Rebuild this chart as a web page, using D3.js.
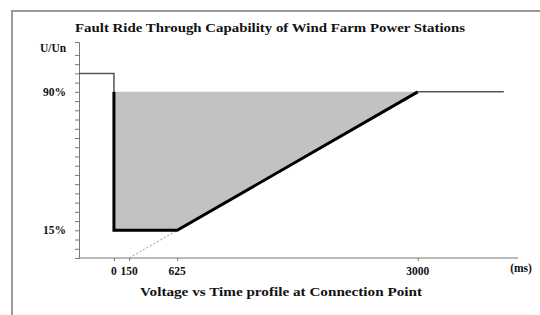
<!DOCTYPE html>
<html>
<head>
<meta charset="utf-8">
<script src="https://cdn.jsdelivr.net/npm/d3@7"></script>
<style>
  body { margin: 0; background: #fff; }
  svg text { font-family: "Liberation Serif", "Times New Roman", serif; font-weight: bold; fill: #111; }
</style>
</head>
<body>
<div id="chart"></div>
<script>
// voltage (% of Un) vs time (ms)
const xTicks = [0, 150, 625, 3000]
const yLabelTicks = [90, 15]
const preFault = [{t: -345, u: 100}, {t: 0, u: 100}, {t: 0, u: 90}]
const boundary = [{t: 0, u: 90}, {t: 0, u: 15}, {t: 625, u: 15}, {t: 3000, u: 90}]
const area = [{t: 0, u: 90}, {t: 0, u: 15}, {t: 625, u: 15}, {t: 3000, u: 90}]
const postFault = [{t: 3000, u: 90}, {t: 3850, u: 90}]
const extrapolation = [{t: 150, u: 0}, {t: 625, u: 15}]

const dimensions = {
    width: 540,
    height: 315,
    margin: { left: 79, right: 22, top: 42, bottom: 57 }
}

const svg = d3.select('#chart')
    .append('svg')
    .attr('width', dimensions.width)
    .attr('height', dimensions.height)

// outer frame (cut off at right & bottom like the scan)
svg.append('path')
    .attr('d', `M12,${dimensions.height + 2}V11H${dimensions.width + 2}`)
    .attr('fill', 'none')
    .attr('stroke', '#9a9a9a')
    .attr('stroke-width', 2)

const xScale = d3.scaleLinear()
    .domain([-345, 3990])
    .range([dimensions.margin.left, dimensions.width - dimensions.margin.right])
const yScale = d3.scaleLinear()
    .domain([0, 117])
    .range([dimensions.height - dimensions.margin.bottom, dimensions.margin.top])

const line = d3.line().x(d => xScale(d.t)).y(d => yScale(d.u))

// shaded region
svg.append('path')
    .datum(area)
    .attr('d', line.curve(d3.curveLinearClosed))
    .attr('fill', '#c2c2c2')
line.curve(d3.curveLinear)

// axes
const yAxis = d3.axisLeft(yScale).tickValues(d3.range(0, 115, 5)).tickSize(4).tickFormat('')
const yG = svg.append('g')
    .attr('transform', `translate(${xScale(-345)},0)`)
    .call(yAxis)
yG.selectAll('line, path').attr('stroke', '#777')

const xAxis = d3.axisBottom(xScale).tickValues(xTicks).tickSize(3).tickFormat('')
const xG = svg.append('g')
    .attr('transform', `translate(0,${yScale(0)})`)
    .call(xAxis)
xG.select('.domain').attr('d', `M${xScale(-345)},0H${xScale(3990)}`)
xG.selectAll('line, path').attr('stroke', '#777')

// dotted extrapolation
svg.append('path')
    .datum(extrapolation)
    .attr('d', line)
    .attr('fill', 'none')
    .attr('stroke', '#999')
    .attr('stroke-width', 1)
    .attr('stroke-dasharray', '2,2')

svg.append('path')
    .datum(preFault)
    .attr('d', line)
    .attr('fill', 'none')
    .attr('stroke', '#555')
    .attr('stroke-width', 1.5)

svg.append('path')
    .datum(postFault)
    .attr('d', line)
    .attr('fill', 'none')
    .attr('stroke', '#555')
    .attr('stroke-width', 1.5)

svg.append('path')
    .datum(boundary)
    .attr('d', line)
    .attr('fill', 'none')
    .attr('stroke', '#000')
    .attr('stroke-width', 3)

// labels
svg.selectAll('.ylab')
    .data(yLabelTicks)
    .join('text')
    .attr('class', 'ylab')
    .attr('x', 66)
    .attr('y', d => yScale(d) + 4)
    .attr('text-anchor', 'end')
    .attr('font-size', 11.5)
    .text(d => d + '%')

svg.selectAll('.xlab')
    .data(xTicks)
    .join('text')
    .attr('class', 'xlab')
    .attr('x', d => xScale(d))
    .attr('y', yScale(0) + 17)
    .attr('text-anchor', 'middle')
    .attr('font-size', 11.5)
    .text(d => d)

svg.append('text')
    .attr('x', 521).attr('y', 272)
    .attr('text-anchor', 'middle')
    .attr('font-size', 11.5)
    .text('(ms)')

svg.append('text')
    .attr('x', 53).attr('y', 52)
    .attr('text-anchor', 'middle')
    .attr('font-size', 11.5)
    .text('U/Un')

svg.append('text')
    .attr('x', 270).attr('y', 32)
    .attr('text-anchor', 'middle')
    .attr('font-size', 12.5)
    .attr('textLength', 390)
    .attr('lengthAdjust', 'spacingAndGlyphs')
    .text('Fault Ride Through Capability of Wind Farm Power Stations')

svg.append('text')
    .attr('x', 281).attr('y', 296)
    .attr('text-anchor', 'middle')
    .attr('font-size', 11.5)
    .attr('textLength', 282)
    .attr('lengthAdjust', 'spacingAndGlyphs')
    .text('Voltage vs Time profile at Connection Point')
</script>
</body>
</html>
